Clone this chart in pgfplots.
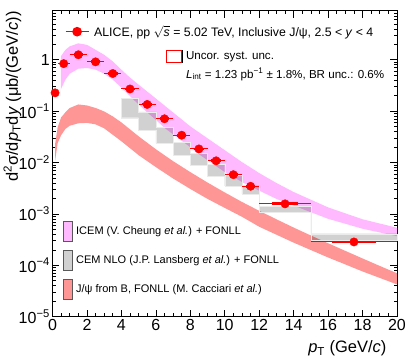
\documentclass[border=0pt]{standalone}
\usepackage{fontspec}
\setmainfont{Liberation Sans}
\usepackage{pgfplots}
\pgfplotsset{compat=1.18}

\definecolor{alicered}{RGB}{255,0,0}
\definecolor{icemcol}{RGB}{255,185,255}
\definecolor{fonllcol}{RGB}{255,150,150}
\definecolor{cemcol}{RGB}{209,209,209}

\tikzset{legbox/.style={draw=none, fill=none, inner sep=0pt, outer sep=0pt,
    nodes={inner sep=0pt}, cells={anchor=west}}}

\begin{document}
\begin{tikzpicture}
\begin{axis}[scale only axis, width=344.5pt, height=306pt,
  xmin=0, xmax=20, ymode=log, ymin=1e-5, ymax=9,
  clip=false,
  axis line style={line width=0.8pt},
  tick align=inside, tick pos=both,
  xticklabel pos=lower, yticklabel pos=left,
  xtick={0,2,...,20}, minor x tick num=3,
  ytick={1e-5,1e-4,1e-3,1e-2,1e-1,1},
  yticklabels={10\textsuperscript{−5},10\textsuperscript{−4},10\textsuperscript{−3},10\textsuperscript{−2},10\textsuperscript{−1},1},
  minor ytick={2e-5,3e-5,4e-5,5e-5,6e-5,7e-5,8e-5,9e-5,
    2e-4,3e-4,4e-4,5e-4,6e-4,7e-4,8e-4,9e-4,
    2e-3,3e-3,4e-3,5e-3,6e-3,7e-3,8e-3,9e-3,
    2e-2,3e-2,4e-2,5e-2,6e-2,7e-2,8e-2,9e-2,
    0.2,0.3,0.4,0.5,0.6,0.7,0.8,0.9,2,3,4,5,6,7,8,9},
  major tick length=7pt, minor tick length=3.5pt,
  every tick/.style={black, line width=0.6pt},
  tick label style={font=\fontsize{16}{16}\selectfont},
  yticklabel style={inner xsep=2.5pt},
  xticklabel style={inner ysep=2.5pt},
  /pgf/number format/assume math mode=true,
]
\coordinate (LL) at (rel axis cs:0,0);
\coordinate (UR) at (rel axis cs:1,1);

% J/psi from B, FONLL
\addplot[fill=fonllcol, draw=none] coordinates {
  (0.15,0.0227) (0.3,0.0484) (0.5,0.0755) (0.75,0.095) (1.0,0.115)
  (1.5,0.1349) (2.0,0.1289) (2.5,0.1153) (3.0,0.0987) (3.5,0.0790)
  (4.0,0.0604) (5,0.0324) (6,0.01816) (7,0.01064) (8,0.00652)
  (9,0.00408) (10,0.00262) (11,0.00171) (12,0.00115) (13,0.000787)
  (14,0.000543) (15,0.000380) (16,0.000269) (17,0.000191)
  (18,0.000136) (19,0.0000973) (20,0.0000700)
  (20,0.0000425) (19,0.0000568) (18,0.0000759) (17,0.000104)
  (16,0.000142) (15,0.000198) (14,0.000276) (13,0.000394)
  (12,0.000563) (11,0.000879) (10,0.00131) (9,0.00196) (8,0.00306)
  (7,0.00489) (6,0.00815) (5,0.0139) (4.5,0.0190) (4.0,0.0259)
  (3.0,0.0463) (2.5,0.0553) (2.0,0.0591) (1.5,0.058) (1.0,0.052)
  (0.75,0.045) (0.5,0.034) (0.3,0.024) (0.15,0.01064)
} -- cycle;

% ICEM + FONLL
\addplot[fill=icemcol, draw=none] coordinates {
  (0.48,1.158) (0.75,1.56) (1.0,1.824) (1.5,2.085) (2.0,1.95)
  (2.5,1.56) (3.0,1.249) (3.5,0.927) (4.0,0.641) (4.5,0.449)
  (5.0,0.328) (5.5,0.2405) (6.0,0.176) (6.5,0.1289) (7.0,0.0944)
  (7.5,0.0691) (8.0,0.0506) (8.5,0.0387) (9.0,0.0296) (9.5,0.0227)
  (10.0,0.0174) (10.5,0.0133) (11.0,0.0102) (12.0,0.00624)
  (13.0,0.0040) (14.0,0.00267) (16.0,0.00134) (18.0,0.000787)
  (20.0,0.000538)
  (20,0.000369) (18,0.000515) (16,0.000804) (14,0.00145) (13,0.00196)
  (12,0.00284) (11,0.00418) (10.5,0.00522) (10,0.00652) (9.5,0.0085)
  (9,0.0111) (8.5,0.0145) (8,0.0199) (7.5,0.0265) (7,0.0354)
  (6.5,0.0473) (6,0.0676) (5.5,0.0944) (5,0.1349) (4.5,0.195)
  (4,0.287) (3.5,0.410) (3,0.536) (2.5,0.641) (2,0.691) (1.5,0.670)
  (1,0.536) (0.75,0.410) (0.48,0.263)
} -- cycle;

% CEM NLO + FONLL (bin boxes)
\addplot[fill=black, fill opacity=0.18, draw=black!8, line width=0.3pt] coordinates {
  (4,0.18) (5,0.18) (5,0.097) (6,0.097) (6,0.048) (7,0.048)
  (7,0.0245) (8,0.0245) (8,0.0152) (9,0.0152) (9,0.0093) (10,0.0093)
  (10,0.0057) (11,0.0057) (11,0.00354) (12,0.00354) (12,0.00142)
  (15,0.00142) (15,4.12e-4) (20,4.12e-4)
  (20,3.06e-4) (15,3.06e-4) (15,0.00108) (12,0.00108) (12,0.00245)
  (11,0.00245) (11,0.0035) (10,0.0035) (10,0.0055) (9,0.0055)
  (9,0.009) (8,0.009) (8,0.0141) (7,0.0141) (7,0.0237) (6,0.0237)
  (6,0.042) (5,0.042) (5,0.0745) (4,0.0745)
} -- cycle;

% uncorrelated systematic boxes
\addplot[alicered, line width=1pt, unbounded coords=jump, mark=none] coordinates {
  (0.075,0.218) (0.225,0.218) (0.225,0.236) (0.075,0.236) (0.075,0.218) (nan,nan)
  (0.475,0.808) (0.825,0.808) (0.825,0.874) (0.475,0.874) (0.475,0.808) (nan,nan)
  (1.25,1.203) (1.75,1.203) (1.75,1.300) (1.25,1.300) (1.25,1.203) (nan,nan)
  (2.25,0.875) (2.75,0.875) (2.75,0.946) (2.25,0.946) (2.25,0.875) (nan,nan)
  (3.25,0.519) (3.75,0.519) (3.75,0.562) (3.25,0.562) (3.25,0.519) (nan,nan)
  (4.25,0.260) (4.75,0.260) (4.75,0.281) (4.25,0.281) (4.25,0.260) (nan,nan)
  (5.25,0.1299) (5.75,0.1299) (5.75,0.1404) (5.25,0.1404) (5.25,0.1299) (nan,nan)
  (6.25,0.0683) (6.75,0.0683) (6.75,0.0738) (6.25,0.0738) (6.25,0.0683) (nan,nan)
  (7.25,0.03271) (7.75,0.03271) (7.75,0.03536) (7.25,0.03536) (7.25,0.03271) (nan,nan)
  (8.25,0.01770) (8.75,0.01770) (8.75,0.01914) (8.25,0.01914) (8.25,0.01770) (nan,nan)
  (9.25,0.01039) (9.75,0.01039) (9.75,0.01123) (9.25,0.01123) (9.25,0.01039) (nan,nan)
  (10.25,0.005580) (10.75,0.005580) (10.75,0.006032) (10.25,0.006032) (10.25,0.005580) (nan,nan)
  (11.25,0.003319) (11.75,0.003319) (11.75,0.003588) (11.25,0.003588) (11.25,0.003319) (nan,nan)
  (12.75,0.001510) (14.25,0.001510) (14.25,0.001633) (12.75,0.001633) (12.75,0.001510) (nan,nan)
  (16.25,0.0002742) (18.75,0.0002742) (18.75,0.0002964) (16.25,0.0002964) (16.25,0.0002742)
};

% ALICE data
\addplot[alicered, only marks, mark=*, mark size=4.2pt,
  error bars/.cd, x dir=both, x explicit,
  error bar style={line width=1pt, alicered}, error mark=none]
  table[x=x, y=y, x error=ex] {
  x     y         ex
  0.15  0.227     0.15
  0.65  0.84      0.35
  1.5   1.25      0.5
  2.5   0.91      0.5
  3.5   0.54      0.5
  4.5   0.27      0.5
  5.5   0.135     0.5
  6.5   0.071     0.5
  7.5   0.034     0.5
  8.5   0.0184    0.5
  9.5   0.0108    0.5
  10.5  0.0058    0.5
  11.5  0.00345   0.5
  13.5  0.00157   1.5
  17.5  0.000285  2.5
};

\node[xshift=-40pt, yshift=3pt, rotate=90, anchor=east, font=\fontsize{16.5}{17}\selectfont]
  at (rel axis cs:0,1) {d\textsuperscript{2}σ/d\textit{p}\textsubscript{T}d\textit{y} (μb/(GeV/\textit{c}))};
\node[anchor=east, xshift=-7pt, yshift=-32pt, font=\fontsize{16.5}{17}\selectfont]
  at (rel axis cs:1,0) {\textit{p}\textsubscript{T} (GeV/\textit{c})};
\end{axis}

% legend: data
\begin{axis}[scale only axis, width=344.5pt, height=306pt,
  xmin=0, xmax=20, ymin=0, ymax=1, hide axis,
  legend style={legbox, at={(0.0363,0.9314)}, anchor=west, column sep=5pt,
    font=\fontsize{12.3}{14}\selectfont},
  legend image code/.code={\draw[mark repeat=2, mark phase=2]
    plot coordinates {(0pt,0pt) (11.5pt,0pt) (23pt,0pt)};}]
\addlegendimage{alicered, line width=1.2pt, mark=*, mark size=4.2pt}
\addlegendentry{ALICE, pp $\sqrt{\textit{s}}$ = 5.02 TeV, Inclusive J/ψ, 2.5 < \textit{y} < 4}
\end{axis}

% legend: systematics
\begin{axis}[scale only axis, width=344.5pt, height=306pt,
  xmin=0, xmax=20, ymin=0, ymax=1, hide axis,
  legend style={legbox, at={(0.3286,0.8716)}, anchor=north west, column sep=4pt,
    row sep=5.7pt, font=\fontsize{11.6}{13}\selectfont}]
\addlegendimage{legend image code/.code={\path[use as bounding box] (0pt,-6pt) rectangle (16pt,6pt);
  \draw[alicered, line width=1pt] (0.5pt,-6pt) rectangle (15.5pt,6pt);}}
\addlegendentry{Uncor. syst. unc.}
\addlegendimage{empty legend}
\addlegendentry{\textit{L}\textsubscript{int} = 1.23 pb\textsuperscript{−1} ± 1.8\%, BR unc.: 0.6\%}
\end{axis}

% legend: models
\begin{axis}[scale only axis, width=344.5pt, height=306pt,
  xmin=0, xmax=20, ymin=0, ymax=1, hide axis,
  legend style={legbox, at={(0.0313,0.3114)}, anchor=north west, column sep=3.5pt,
    row sep=8.3pt, font=\fontsize{11}{12}\selectfont}]
\addlegendimage{legend image code/.code={\draw[fill=icemcol, draw=black!65, line width=0.6pt] (0.3pt,-10pt) rectangle (9.1pt,10pt);}}
\addlegendentry{ICEM (V. Cheung \textit{et al.}) + FONLL}
\addlegendimage{legend image code/.code={\draw[fill=cemcol, draw=black!65, line width=0.6pt] (0.3pt,-10pt) rectangle (9.1pt,10pt);}}
\addlegendentry{CEM NLO (J.P. Lansberg \textit{et al.}) + FONLL}
\addlegendimage{legend image code/.code={\draw[fill=fonllcol, draw=black!65, line width=0.6pt] (0.3pt,-10pt) rectangle (9.1pt,10pt);}}
\addlegendentry{J/ψ from B, FONLL (M. Cacciari \textit{et al.})}
\end{axis}

\pgfresetboundingbox
\path[use as bounding box] ([shift={(-52.5pt,-45pt)}]LL) rectangle ([shift={(10pt,10.7pt)}]UR);
\end{tikzpicture}
\end{document}
